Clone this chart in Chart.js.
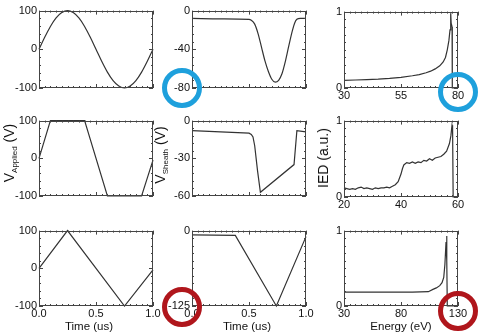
<!DOCTYPE html>
<html>
<head>
<meta charset="utf-8">
<script src="https://cdn.jsdelivr.net/npm/chart.js@4"></script>
<style>
  body { margin: 0; background: #fff; }
  #wrap { position: relative; width: 483px; height: 336px; overflow: hidden; font-family: "Liberation Sans", Arial, Helvetica, sans-serif; color: #111; }
  #wrap canvas { position: absolute; }
  .ytitle, .xtitle { position: absolute; white-space: nowrap; transform: translate(-50%, -50%); }
  .ytitle { transform: translate(-50%, -50%) rotate(-90deg); font-size: 14px; }
  .ytitle sub { font-size: 8px; }
  .xtitle { font-size: 11.5px; }
  .ring { position: absolute; border-radius: 50%; box-sizing: border-box; width: 40px; height: 40px; border: 5px solid; }
</style>
</head>
<body>
<div id="wrap">
  <canvas id="c11"></canvas><canvas id="c12"></canvas><canvas id="c13"></canvas>
  <canvas id="c21"></canvas><canvas id="c22"></canvas><canvas id="c23"></canvas>
  <canvas id="c31"></canvas><canvas id="c32"></canvas><canvas id="c33"></canvas>

  <div class="ytitle" style="left:10px; top:153px;">V<sub>Applied</sub> (V)</div>
  <div class="ytitle" style="left:161px; top:155px;">V<sub>Sheath</sub> (V)</div>
  <div class="ytitle" style="left:323px; top:158px;">IED (a.u.)</div>
  <div class="xtitle" style="left:89px; top:326px;">Time (us)</div>
  <div class="xtitle" style="left:247px; top:326px;">Time (us)</div>
  <div class="xtitle" style="left:401px; top:326px;">Energy (eV)</div>

  <div class="ring" style="left:162px; top:68px; border-color:#1ea0dc;"></div>
  <div class="ring" style="left:438px; top:72px; border-color:#1ea0dc;"></div>
  <div class="ring" style="left:162px; top:287px; border-color:#b0161c;"></div>
  <div class="ring" style="left:438px; top:291px; border-color:#b0161c;"></div>
</div>
<script>
/* row 1 : sine drive */
const sineTime = [0, 0.05, 0.1, 0.15, 0.2, 0.25, 0.3, 0.35, 0.4, 0.45, 0.5, 0.55, 0.6, 0.65, 0.7, 0.75, 0.8, 0.85, 0.9, 0.95, 1.0];
const sineApplied = [0, 31, 59, 81, 95, 100, 95, 81, 59, 31, 0, -31, -59, -81, -95, -100, -95, -81, -59, -31, 0];
const sineSheathTime = [0, 0.25, 0.5, 0.52, 0.55, 0.58, 0.61, 0.64, 0.67, 0.70, 0.73, 0.76, 0.79, 0.82, 0.85, 0.88, 0.90, 0.92, 0.95, 1.0];
const sineSheath = [-8, -8.5, -9, -10, -14, -24, -38, -52, -63, -71, -74, -72, -65, -52, -36, -21, -13, -9, -8, -8];
const sineEnergy = [30, 35, 40, 45, 50, 55, 60, 63, 66, 68, 70, 72, 73.5, 74.5, 75.3, 76, 76.5, 76.8, 77.0, 77.4, 77.5, 80];
const sineIed = [0.10, 0.105, 0.11, 0.115, 0.125, 0.14, 0.16, 0.175, 0.20, 0.22, 0.25, 0.29, 0.34, 0.40, 0.50, 0.62, 0.76, 0.98, 0.85, 0.80, 0.0, 0.0];

/* row 2 : trapezoid drive */
const trapTime = [0, 0.1, 0.4, 0.6, 0.9, 1.0];
const trapApplied = [0, 100, 100, -100, -100, -5];
const trapSheathTime = [0, 0.25, 0.5, 0.52, 0.535, 0.55, 0.575, 0.6, 0.895, 0.92, 1.0];
const trapSheath = [-8, -9, -10, -11, -13, -20, -40, -57, -35, -8, -9];
const trapEnergy = [20, 21, 22, 23, 24, 25, 26, 27, 28, 29, 30, 31, 32, 33, 34, 35, 36, 37, 38, 39, 40, 40.5, 41, 42, 43, 44, 45, 46, 47, 48, 49, 50, 51, 52, 53, 54, 55, 56, 57, 57.5, 57.9, 58.1, 58.3, 60];
const trapIed = [0.12, 0.11, 0.10, 0.11, 0.10, 0.12, 0.13, 0.11, 0.12, 0.11, 0.10, 0.12, 0.11, 0.12, 0.12, 0.13, 0.12, 0.14, 0.16, 0.20, 0.30, 0.37, 0.42, 0.45, 0.44, 0.46, 0.44, 0.46, 0.45, 0.48, 0.47, 0.50, 0.48, 0.51, 0.52, 0.53, 0.56, 0.60, 0.70, 0.80, 0.94, 0.90, 0.0, 0.0];

/* row 3 : triangle drive */
const triTime = [0, 0.25, 0.75, 1.0];
const triApplied = [0, 100, -100, -4];
const triSheathTime = [0, 0.38, 0.74, 1.0];
const triSheath = [-7, -8, -125, -10];
const triEnergy = [30, 60, 90, 104, 108, 111, 114, 116, 117.5, 118.5, 119.5, 120, 120.3, 120.6, 130];
const triIed = [0.185, 0.185, 0.185, 0.19, 0.22, 0.24, 0.27, 0.31, 0.38, 0.55, 0.85, 0.93, 0.6, 0.0, 0.0];

/* frame with inward minor ticks on all four sides, IDL style */
const frameTicks = {
  id: 'frameTicks',
  afterDatasetsDraw(chart, args, o) {
    const ctx = chart.ctx, a = chart.chartArea;
    const xs = chart.scales.x, ys = chart.scales.y;
    const isMajor = (v, min, step) => {
      const k = (v - min) / step;
      return Math.abs(k - Math.round(k)) < 1e-6;
    };
    ctx.save();
    ctx.strokeStyle = '#444';
    ctx.lineWidth = 1;
    ctx.strokeRect(Math.round(a.left) + 0.5, Math.round(a.top) + 0.5, Math.round(a.width) - 1, Math.round(a.height) - 1);
    ctx.beginPath();
    for (let i = 0; ; i++) {
      const v = xs.min + i * o.xMinor;
      if (v > xs.max + 1e-9) break;
      const px = Math.round(xs.getPixelForValue(v)) + 0.5;
      const len = isMajor(v, xs.min, o.xMajor) ? 4 : 2;
      ctx.moveTo(px, a.bottom); ctx.lineTo(px, a.bottom - len);
      ctx.moveTo(px, a.top); ctx.lineTo(px, a.top + len);
    }
    for (let i = 0; ; i++) {
      const v = ys.min + i * o.yMinor;
      if (v > ys.max + 1e-9) break;
      const py = Math.round(ys.getPixelForValue(v)) + 0.5;
      const len = isMajor(v, ys.min, o.yMajor) ? 4 : 2;
      ctx.moveTo(a.left, py); ctx.lineTo(a.left + len, py);
      ctx.moveTo(a.right, py); ctx.lineTo(a.right - len, py);
    }
    ctx.stroke();
    ctx.restore();
  }
};

const tickFont = { family: '"Liberation Sans", Arial, Helvetica, sans-serif', size: 11 };

/* box = plot area [left, top, right, bottom] in page pixels */
const panels = [
  { id: 'c11', box: [39, 10, 153, 88], xv: sineTime, yv: sineApplied, x: [0, 1, 0.5, 0.05, 1], y: [-100, 100, 100, 20, 0], xLabels: false, smooth: true },
  { id: 'c12', box: [192, 10, 306, 88], xv: sineSheathTime, yv: sineSheath, x: [0, 1, 0.5, 0.05, 1], y: [-80, 0, 40, 8, 0], xLabels: false, smooth: true },
  { id: 'c13', box: [344, 11, 458, 88], xv: sineEnergy, yv: sineIed, x: [30, 80, 25, 2.5, 0], y: [0, 1, 1, 0.1, 0], xLabels: true, smooth: false },
  { id: 'c21', box: [39, 120, 153, 196], xv: trapTime, yv: trapApplied, x: [0, 1, 0.5, 0.05, 1], y: [-100, 100, 100, 20, 0], xLabels: false, smooth: false },
  { id: 'c22', box: [192, 120, 306, 196], xv: trapSheathTime, yv: trapSheath, x: [0, 1, 0.5, 0.05, 1], y: [-60, 0, 30, 6, 0], xLabels: false, smooth: false },
  { id: 'c23', box: [344, 120, 458, 197], xv: trapEnergy, yv: trapIed, x: [20, 60, 20, 2, 0], y: [0, 1, 1, 0.1, 0], xLabels: true, smooth: false },
  { id: 'c31', box: [39, 230, 153, 306], xv: triTime, yv: triApplied, x: [0, 1, 0.5, 0.05, 1], y: [-100, 100, 100, 20, 0], xLabels: true, smooth: false },
  { id: 'c32', box: [192, 230, 306, 306], xv: triSheathTime, yv: triSheath, x: [0, 1, 0.5, 0.05, 1], y: [-125, 0, 125, 12.5, 0], xLabels: true, smooth: false },
  { id: 'c33', box: [344, 230, 458, 306], xv: triEnergy, yv: triIed, x: [30, 130, 50, 5, 0], y: [0, 1, 1, 0.1, 0], xLabels: true, smooth: false }
];

const padL = 36, padT = 8, padR = 12, padB = 16;

panels.forEach(p => {
  const [L, T, R, B] = p.box;
  const cv = document.getElementById(p.id);
  cv.width = R - L + padL + padR;
  cv.height = B - T + padT + padB;
  cv.style.left = (L - padL) + 'px';
  cv.style.top = (T - padT) + 'px';

  new Chart(cv, {
    type: 'line',
    data: {
      datasets: [{
        data: p.xv.map((x, i) => ({ x: x, y: p.yv[i] })),
        borderColor: '#333',
        borderWidth: 1.2,
        pointRadius: 0,
        tension: 0,
        cubicInterpolationMode: p.smooth ? 'monotone' : 'default',
        clip: 2
      }]
    },
    plugins: [frameTicks],
    options: {
      responsive: false,
      animation: false,
      events: [],
      layout: { padding: { top: padT, right: padR, left: 0, bottom: 0 } },
      plugins: {
        legend: { display: false },
        tooltip: { enabled: false },
        frameTicks: { xMajor: p.x[2], xMinor: p.x[3], yMajor: p.y[2], yMinor: p.y[3] }
      },
      scales: {
        x: {
          type: 'linear',
          min: p.x[0], max: p.x[1],
          grid: { display: false, drawTicks: false },
          border: { display: false },
          ticks: {
            display: p.xLabels,
            stepSize: p.x[2],
            padding: 1,
            maxRotation: 0,
            color: '#111',
            font: tickFont,
            callback: v => p.x[4] ? v.toFixed(p.x[4]) : String(v)
          },
          afterFit(s) { s.height = padB; }
        },
        y: {
          type: 'linear',
          min: p.y[0], max: p.y[1],
          grid: { display: false, drawTicks: false },
          border: { display: false },
          ticks: {
            stepSize: p.y[2],
            padding: 2,
            color: '#111',
            font: tickFont,
            callback: v => String(v)
          },
          afterFit(s) { s.width = padL; }
        }
      }
    }
  });
});
</script>
</body>
</html>
